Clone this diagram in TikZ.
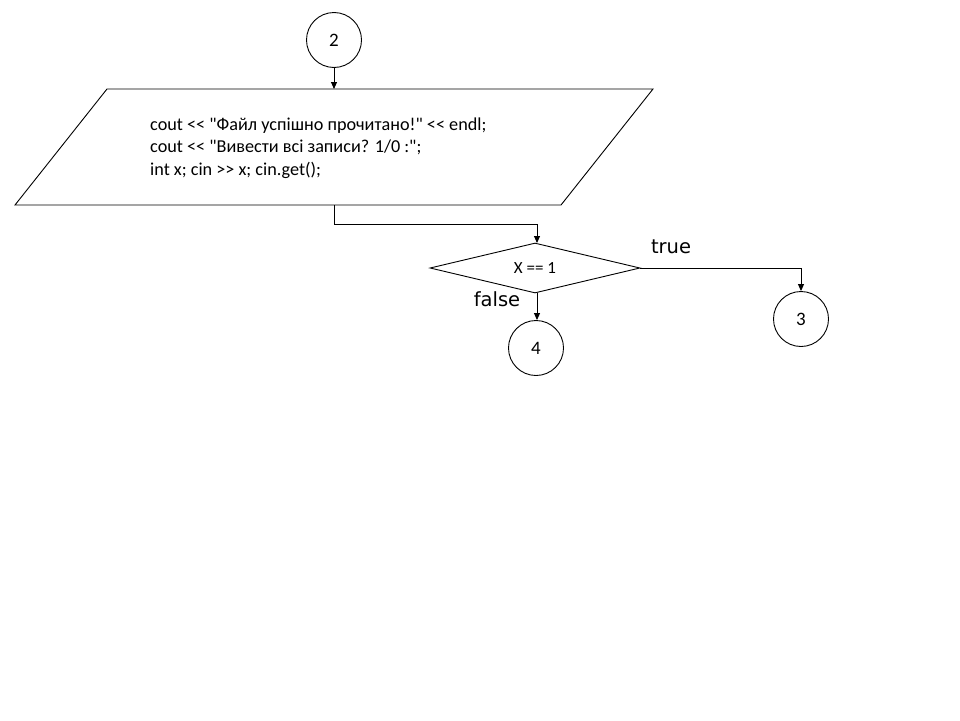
\documentclass[tikz,border=0pt]{standalone}
\usepackage{fontspec}
\setmainfont{Carlito}[Ligatures=TeXOff]
\newfontfamily\labfont{DejaVu Sans}
\usetikzlibrary{arrows.meta,shapes.geometric}
\begin{document}
\begin{tikzpicture}[x=1pt,y=-1pt,
  conn/.style={draw,line width=0.9pt,-{Triangle[length=7pt,width=6pt]}},
  conncirc/.style={circle,draw,line width=0.9pt,minimum size=55pt,inner sep=0pt,font=\fontsize{19}{22}\selectfont},
  lab/.style={font=\labfont\fontsize{19.5}{22}\selectfont},
  every node/.style={text=black}]
\useasboundingbox[fill=white] (0,0) rectangle (960,720);
% connector 2
\node[conncirc] (c2) at (334,40) {2};
% parallelogram
\draw[line width=0.9pt] (107,89) -- (653,89) -- (561,205) -- (15,205) -- cycle;
\node[minimum width=546pt,minimum height=116pt,inner sep=0pt] (para) at (334,147) {};
\node[anchor=west,align=left,font=\fontsize{18.2}{22.5}\selectfont,inner sep=0pt] (ptext) at (150,148)
 {cout << "Файл успішно прочитано!" << endl;\\cout << "Вивести всі записи? 1/0 :";\\int x; cin >> x; cin.get();};
% decision
\node[diamond,draw,line width=0.9pt,minimum width=210pt,minimum height=50pt,inner sep=0pt,aspect=4.2,
  font=\fontsize{17}{20}\selectfont] (dec) at (535,268) {X == 1};
\node[conncirc] (c4) at (536,348) {4};
\node[conncirc] (c3) at (801,319) {3};
% connectors
\draw[conn] (c2.south) -- (334,89);
\coordinate (dtop) at (537,243);
\draw[conn] (334,205) -- (334,224) -- (537,224) -- (dtop);
\draw[conn] (537,293) -- (c4.north -| 537,0);
\draw[conn] (dec.east) -| (c3.north);
% labels
\node[lab] (tlab) at (671,247) {true};
\node[lab] (flab) at (497,299) {false};
\end{tikzpicture}
\end{document}
